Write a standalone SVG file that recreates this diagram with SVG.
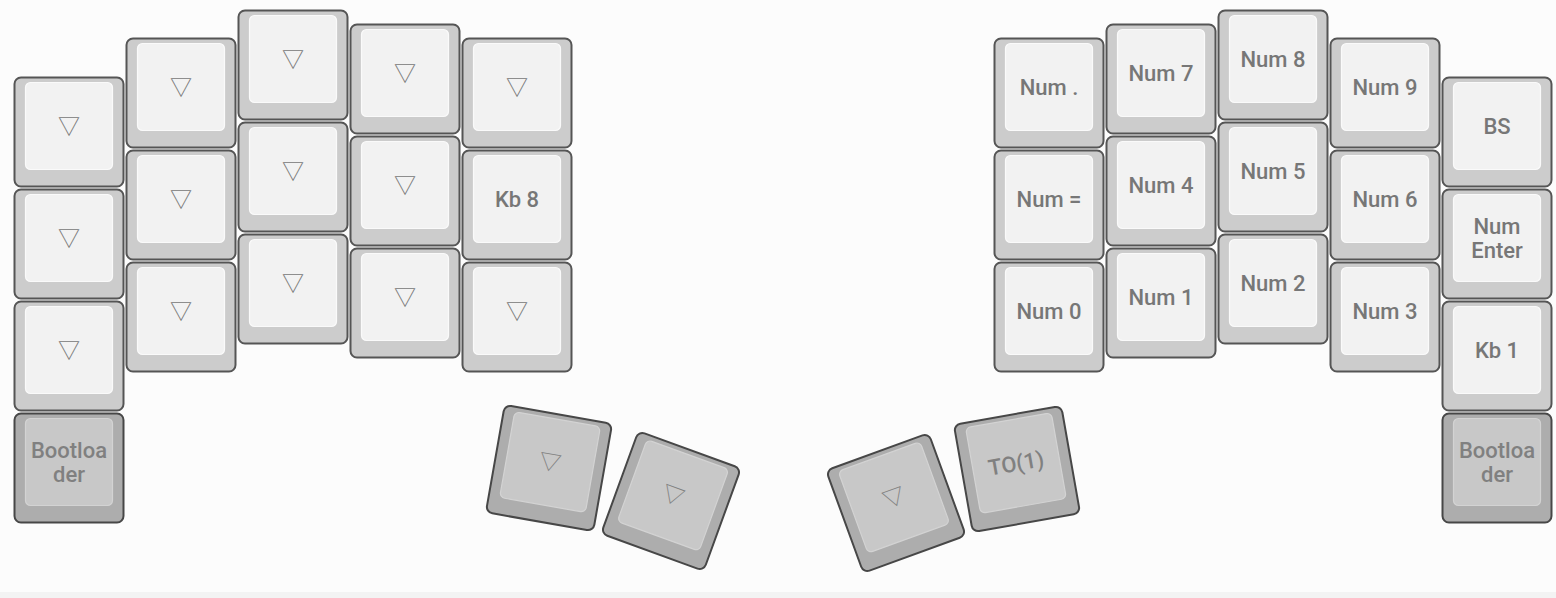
<svg xmlns="http://www.w3.org/2000/svg" width="1556" height="598" viewBox="0 0 1556 598">
<style>
.o{fill:#cccccc;stroke:#555555;stroke-width:2}
.i{fill:#f2f2f2;stroke:#fafafa;stroke-width:1.2}
.ho{fill:#adadad;stroke:#474747;stroke-width:2}
.hi{fill:#c8c8c8;stroke:#d3d3d3;stroke-width:1.2}
text{font-family:Roboto,"Noto Sans CJK SC","DejaVu Sans",sans-serif;font-size:22px;font-weight:500;text-anchor:middle;fill:#777777}
.h text{fill:#808080}
.t{font-weight:400;fill:#777777}
</style>
<rect x="0" y="0" width="1556" height="598" fill="#fcfcfc"/>
<rect x="0" y="592" width="1556" height="6" fill="#f3f3f3"/>
<g id="left">
<g id="L00" transform="translate(69,132)"><rect class="o" x="-54.5" y="-54.5" width="109" height="109" rx="6.5"/><rect class="i" x="-43.5" y="-49.5" width="87" height="87" rx="5"/><text class="t" y="2">▽</text></g>
<g id="L10" transform="translate(69,244)"><rect class="o" x="-54.5" y="-54.5" width="109" height="109" rx="6.5"/><rect class="i" x="-43.5" y="-49.5" width="87" height="87" rx="5"/><text class="t" y="2">▽</text></g>
<g id="L20" transform="translate(69,356)"><rect class="o" x="-54.5" y="-54.5" width="109" height="109" rx="6.5"/><rect class="i" x="-43.5" y="-49.5" width="87" height="87" rx="5"/><text class="t" y="2">▽</text></g>
<g id="L30" class="h" transform="translate(69,468)"><rect class="ho" x="-54.5" y="-54.5" width="109" height="109" rx="6.5"/><rect class="hi" x="-43.5" y="-49.5" width="87" height="87" rx="5"/><text y="-10.5">Bootloa</text><text y="13.5">der</text></g>
<g id="L01" transform="translate(181,93)"><rect class="o" x="-54.5" y="-54.5" width="109" height="109" rx="6.5"/><rect class="i" x="-43.5" y="-49.5" width="87" height="87" rx="5"/><text class="t" y="2">▽</text></g>
<g id="L11" transform="translate(181,205)"><rect class="o" x="-54.5" y="-54.5" width="109" height="109" rx="6.5"/><rect class="i" x="-43.5" y="-49.5" width="87" height="87" rx="5"/><text class="t" y="2">▽</text></g>
<g id="L21" transform="translate(181,317)"><rect class="o" x="-54.5" y="-54.5" width="109" height="109" rx="6.5"/><rect class="i" x="-43.5" y="-49.5" width="87" height="87" rx="5"/><text class="t" y="2">▽</text></g>
<g id="L02" transform="translate(293,65)"><rect class="o" x="-54.5" y="-54.5" width="109" height="109" rx="6.5"/><rect class="i" x="-43.5" y="-49.5" width="87" height="87" rx="5"/><text class="t" y="2">▽</text></g>
<g id="L12" transform="translate(293,177)"><rect class="o" x="-54.5" y="-54.5" width="109" height="109" rx="6.5"/><rect class="i" x="-43.5" y="-49.5" width="87" height="87" rx="5"/><text class="t" y="2">▽</text></g>
<g id="L22" transform="translate(293,289)"><rect class="o" x="-54.5" y="-54.5" width="109" height="109" rx="6.5"/><rect class="i" x="-43.5" y="-49.5" width="87" height="87" rx="5"/><text class="t" y="2">▽</text></g>
<g id="L03" transform="translate(405,79)"><rect class="o" x="-54.5" y="-54.5" width="109" height="109" rx="6.5"/><rect class="i" x="-43.5" y="-49.5" width="87" height="87" rx="5"/><text class="t" y="2">▽</text></g>
<g id="L13" transform="translate(405,191)"><rect class="o" x="-54.5" y="-54.5" width="109" height="109" rx="6.5"/><rect class="i" x="-43.5" y="-49.5" width="87" height="87" rx="5"/><text class="t" y="2">▽</text></g>
<g id="L23" transform="translate(405,303)"><rect class="o" x="-54.5" y="-54.5" width="109" height="109" rx="6.5"/><rect class="i" x="-43.5" y="-49.5" width="87" height="87" rx="5"/><text class="t" y="2">▽</text></g>
<g id="L04" transform="translate(517,93)"><rect class="o" x="-54.5" y="-54.5" width="109" height="109" rx="6.5"/><rect class="i" x="-43.5" y="-49.5" width="87" height="87" rx="5"/><text class="t" y="2">▽</text></g>
<g id="L14" transform="translate(517,205)"><rect class="o" x="-54.5" y="-54.5" width="109" height="109" rx="6.5"/><rect class="i" x="-43.5" y="-49.5" width="87" height="87" rx="5"/><text y="2">Kb 8</text></g>
<g id="L24" transform="translate(517,317)"><rect class="o" x="-54.5" y="-54.5" width="109" height="109" rx="6.5"/><rect class="i" x="-43.5" y="-49.5" width="87" height="87" rx="5"/><text class="t" y="2">▽</text></g>
<g id="LT1" class="h" transform="translate(549,468) rotate(10)"><rect class="ho" x="-54.5" y="-54.5" width="109" height="109" rx="6.5"/><rect class="hi" x="-43.5" y="-49.5" width="87" height="87" rx="5"/><text class="t" y="2">▽</text></g>
<g id="LT2" class="h" transform="translate(671,501) rotate(20)"><rect class="ho" x="-54.5" y="-54.5" width="109" height="109" rx="6.5"/><rect class="hi" x="-43.5" y="-49.5" width="87" height="87" rx="5"/><text class="t" y="2">▽</text></g>
</g>
<g id="right">
<g id="R00" transform="translate(1049,93)"><rect class="o" x="-54.5" y="-54.5" width="109" height="109" rx="6.5"/><rect class="i" x="-43.5" y="-49.5" width="87" height="87" rx="5"/><text y="2">Num .</text></g>
<g id="R10" transform="translate(1049,205)"><rect class="o" x="-54.5" y="-54.5" width="109" height="109" rx="6.5"/><rect class="i" x="-43.5" y="-49.5" width="87" height="87" rx="5"/><text y="2">Num =</text></g>
<g id="R20" transform="translate(1049,317)"><rect class="o" x="-54.5" y="-54.5" width="109" height="109" rx="6.5"/><rect class="i" x="-43.5" y="-49.5" width="87" height="87" rx="5"/><text y="2">Num 0</text></g>
<g id="R01" transform="translate(1161,79)"><rect class="o" x="-54.5" y="-54.5" width="109" height="109" rx="6.5"/><rect class="i" x="-43.5" y="-49.5" width="87" height="87" rx="5"/><text y="2">Num 7</text></g>
<g id="R11" transform="translate(1161,191)"><rect class="o" x="-54.5" y="-54.5" width="109" height="109" rx="6.5"/><rect class="i" x="-43.5" y="-49.5" width="87" height="87" rx="5"/><text y="2">Num 4</text></g>
<g id="R21" transform="translate(1161,303)"><rect class="o" x="-54.5" y="-54.5" width="109" height="109" rx="6.5"/><rect class="i" x="-43.5" y="-49.5" width="87" height="87" rx="5"/><text y="2">Num 1</text></g>
<g id="R02" transform="translate(1273,65)"><rect class="o" x="-54.5" y="-54.5" width="109" height="109" rx="6.5"/><rect class="i" x="-43.5" y="-49.5" width="87" height="87" rx="5"/><text y="2">Num 8</text></g>
<g id="R12" transform="translate(1273,177)"><rect class="o" x="-54.5" y="-54.5" width="109" height="109" rx="6.5"/><rect class="i" x="-43.5" y="-49.5" width="87" height="87" rx="5"/><text y="2">Num 5</text></g>
<g id="R22" transform="translate(1273,289)"><rect class="o" x="-54.5" y="-54.5" width="109" height="109" rx="6.5"/><rect class="i" x="-43.5" y="-49.5" width="87" height="87" rx="5"/><text y="2">Num 2</text></g>
<g id="R03" transform="translate(1385,93)"><rect class="o" x="-54.5" y="-54.5" width="109" height="109" rx="6.5"/><rect class="i" x="-43.5" y="-49.5" width="87" height="87" rx="5"/><text y="2">Num 9</text></g>
<g id="R13" transform="translate(1385,205)"><rect class="o" x="-54.5" y="-54.5" width="109" height="109" rx="6.5"/><rect class="i" x="-43.5" y="-49.5" width="87" height="87" rx="5"/><text y="2">Num 6</text></g>
<g id="R23" transform="translate(1385,317)"><rect class="o" x="-54.5" y="-54.5" width="109" height="109" rx="6.5"/><rect class="i" x="-43.5" y="-49.5" width="87" height="87" rx="5"/><text y="2">Num 3</text></g>
<g id="R04" transform="translate(1497,132)"><rect class="o" x="-54.5" y="-54.5" width="109" height="109" rx="6.5"/><rect class="i" x="-43.5" y="-49.5" width="87" height="87" rx="5"/><text y="2">BS</text></g>
<g id="R14" transform="translate(1497,244)"><rect class="o" x="-54.5" y="-54.5" width="109" height="109" rx="6.5"/><rect class="i" x="-43.5" y="-49.5" width="87" height="87" rx="5"/><text y="-10.5">Num</text><text y="13.5">Enter</text></g>
<g id="R24" transform="translate(1497,356)"><rect class="o" x="-54.5" y="-54.5" width="109" height="109" rx="6.5"/><rect class="i" x="-43.5" y="-49.5" width="87" height="87" rx="5"/><text y="2">Kb 1</text></g>
<g id="R34" class="h" transform="translate(1497,468)"><rect class="ho" x="-54.5" y="-54.5" width="109" height="109" rx="6.5"/><rect class="hi" x="-43.5" y="-49.5" width="87" height="87" rx="5"/><text y="-10.5">Bootloa</text><text y="13.5">der</text></g>
<g id="RT2" class="h" transform="translate(896,503) rotate(-20)"><rect class="ho" x="-54.5" y="-54.5" width="109" height="109" rx="6.5"/><rect class="hi" x="-43.5" y="-49.5" width="87" height="87" rx="5"/><text class="t" y="2">▽</text></g>
<g id="RT1" class="h" transform="translate(1017,469) rotate(-10)"><rect class="ho" x="-54.5" y="-54.5" width="109" height="109" rx="6.5"/><rect class="hi" x="-43.5" y="-49.5" width="87" height="87" rx="5"/><text y="2">TO(1)</text></g>
</g>
</svg>
